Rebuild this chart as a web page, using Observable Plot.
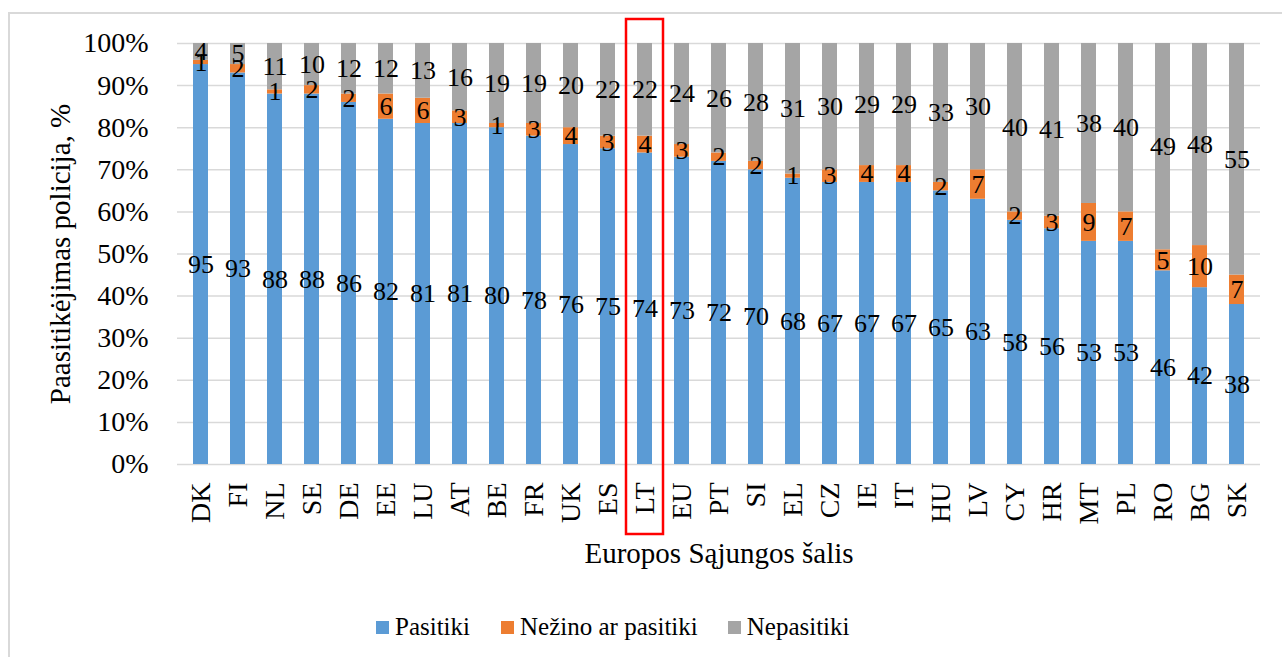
<!DOCTYPE html>
<html>
<head>
<meta charset="utf-8">
<script src="https://cdn.jsdelivr.net/npm/d3@7"></script>
<script src="https://cdn.jsdelivr.net/npm/@observablehq/plot@0.6"></script>
<style>
  html, body { margin: 0; padding: 0; background: #fff; overflow: hidden; width: 1282px; height: 657px; }
  body { position: relative; font-family: "Liberation Serif", "Times New Roman", serif; }
  #frame { position: absolute; left: 8px; top: 12px; width: 1400px; height: 800px; border: 2px solid #d9d9d9; box-sizing: border-box; z-index: 0; }
  #chart { position: absolute; left: 0; top: 0; z-index: 1; }
  #legend { position: absolute; left: 376px; top: 610px; z-index: 2; height: 34px; display: flex; align-items: center; font-size: 25px; color: #000; white-space: nowrap; }
  .item { display: flex; align-items: center; }
  .sw { width: 13px; height: 13px; margin-right: 6px; }
</style>
</head>
<body>
<div id="frame"></div>
<div id="chart"></div>
<div id="legend"></div>
<script>
const countries = ["DK","FI","NL","SE","DE","EE","LU","AT","BE","FR","UK","ES","LT","EU","PT","SI","EL","CZ","IE","IT","HU","LV","CY","HR","MT","PL","RO","BG","SK"];
const pasitiki   = [95,93,88,88,86,82,81,81,80,78,76,75,74,73,72,70,68,67,67,67,65,63,58,56,53,53,46,42,38];
const nezino     = [1,2,1,2,2,6,6,3,1,3,4,3,4,3,2,2,1,3,4,4,2,7,2,3,9,7,5,10,7];
const nepasitiki = [4,5,11,10,12,12,13,16,19,19,20,22,22,24,26,28,31,30,29,29,33,30,40,41,38,40,49,48,55];
const seriesNames = ["Pasitiki","Nežino ar pasitiki","Nepasitiki"];
const seriesColors = ["#5b9bd5","#ed7d31","#a5a5a5"];
const yTicks = [0,10,20,30,40,50,60,70,80,90,100];
const highlight = ["LT"];
const xTitle = "Europos Sąjungos šalis";
const yTitle = "Paasitikėjimas policija, %";

const seriesValues = [pasitiki, nezino, nepasitiki];
const rows = [];
countries.forEach((c, i) => {
  seriesNames.forEach((s, k) => rows.push({country: c, series: s, value: seriesValues[k][i]}));
});

const font = "'Liberation Serif', 'Times New Roman', serif";

const plot = Plot.plot({
  width: 1282,
  height: 600,
  marginLeft: 177,
  marginRight: 22,
  marginTop: 43,
  marginBottom: 136,
  style: {background: "transparent", fontFamily: font, color: "#000"},
  x: {domain: countries, paddingInner: 0.6, paddingOuter: 0.3, label: null},
  y: {domain: [0, 100], label: null},
  color: {domain: seriesNames, range: seriesColors},
  marks: [
    Plot.gridY(yTicks, {stroke: "#d9d9d9", strokeOpacity: 1, strokeWidth: 1.5}),
    Plot.barY(rows, {x: "country", y: "value", fill: "series", order: seriesNames}),
    Plot.text(rows, Plot.stackY({x: "country", y: "value", z: "series", order: seriesNames, text: d => String(d.value), fontSize: 26, fill: "#000"})),
    Plot.barY(highlight, {x: d => d, y1: () => 0, y2: () => 100, fill: "none", stroke: "#ff0000", strokeWidth: 2.5, insetTop: -24, insetBottom: -70, insetLeft: -11, insetRight: -11}),
    Plot.axisY(yTicks, {tickFormat: d => d + "%", tickSize: 0, tickPadding: 29, fontSize: 28, label: null}),
    Plot.axisX({tickSize: 0, tickRotate: -90, tickPadding: 18, fontSize: 28, label: null}),
    Plot.text([xTitle], {frameAnchor: "bottom", dy: 89, lineAnchor: "middle", textAnchor: "middle", fontSize: 29, fill: "#000"}),
    Plot.text([yTitle], {frameAnchor: "left", dx: -117, rotate: -90, lineAnchor: "middle", textAnchor: "middle", fontSize: 29, fill: "#000"})
  ]
});
document.getElementById("chart").appendChild(plot);

const legend = document.getElementById("legend");
const gaps = [0, 31, 30];
seriesNames.forEach((s, k) => {
  const item = document.createElement("div");
  item.className = "item";
  item.style.marginLeft = gaps[k] + "px";
  const sw = document.createElement("div");
  sw.className = "sw";
  sw.style.background = seriesColors[k];
  const t = document.createElement("span");
  t.textContent = s;
  item.appendChild(sw);
  item.appendChild(t);
  legend.appendChild(item);
});
</script>
</body>
</html>
